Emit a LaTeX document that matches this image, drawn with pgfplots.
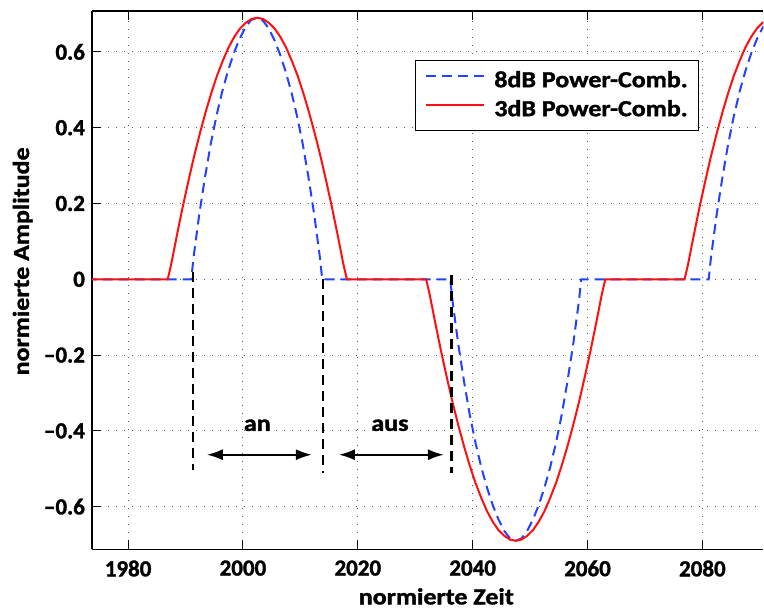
\documentclass[border=0pt]{standalone}
\usepackage{fontspec}
\setmainfont{Carlito}[BoldFeatures={FakeBold=1.5}]
\newfontfamily\widefont{Carlito}[FakeStretch=1.13, BoldFeatures={FakeBold=1.5}]
\usepackage{pgfplots}
\pgfplotsset{compat=1.18}
\usetikzlibrary{arrows.meta}

\definecolor{combblue}{RGB}{35,65,255}
\definecolor{combred}{RGB}{255,15,15}
\newcommand{\lbl}{\fontsize{23}{27}\selectfont\bfseries}
\newcommand{\wlbl}{\widefont\fontsize{23}{27}\selectfont\bfseries}

\begin{document}
\begin{tikzpicture}
\begin{axis}[
    scale only axis,
    width=672pt, height=539pt,
    xmin=1973.7, xmax=2090.6,
    ymin=-0.713, ymax=0.708,
    axis x line*=box, axis y line*=left,
    axis line style={line width=1.5pt, black},
    xtick={1980,2000,2020,2040,2060,2080},
    ytick={-0.6,-0.4,-0.2,0,0.2,0.4,0.6},
    yticklabels={\textendash0.6,\textendash0.4,\textendash0.2,0,0.2,0.4,0.6},
    tick align=inside,
    major tick length=9pt,
    tick style={line width=1pt, black},
    grid=major,
    major grid style={line width=1pt, black!65, dash pattern=on 1pt off 7pt},
    /pgf/number format/1000 sep={},
    /pgf/number format/assume math mode=true,
    ticklabel style={font=\lbl},
    xticklabel style={yshift=-7.5pt},
    yticklabel style={xshift=-3.5pt},
    xlabel={normierte Zeit},
    ylabel={normierte Amplitude},
    xlabel style={font=\wlbl, inner sep=0pt, at={(axis description cs:0.513,-0.102)}, anchor=base},
    ylabel style={font=\wlbl, inner sep=0pt, at={(axis description cs:-0.0938,0.535)}, anchor=base},
    legend style={at={(0.905,0.909)}, anchor=north east, draw=black, line width=1.5pt,
        font=\wlbl, cells={anchor=west}, inner xsep=10pt, inner ysep=10.5pt, row sep=9pt,
        nodes={inner sep=1pt, text height=15pt, text depth=3pt},
        /tikz/every odd column/.style={column sep=8pt}},
    legend image code/.code={\draw[#1] (0pt,5.5pt) -- (58pt,5.5pt);},
]

% 8dB
\addplot[combblue, line width=2pt, dash pattern=on 10pt off 6pt] coordinates {
(1970,0) (1991.0,0) (1991.4,0.058) (1992.4,0.172) (1993.4,0.270) (1994.4,0.358)
(1995.4,0.432) (1996.4,0.496) (1997.4,0.550) (1998.4,0.596) (1999.4,0.634)
(2000.4,0.664) (2001.4,0.684) (2002.4,0.690) (2003.4,0.684) (2004.4,0.664)
(2005.4,0.634) (2006.4,0.596) (2007.4,0.550) (2008.4,0.496) (2009.4,0.432)
(2010.4,0.358) (2011.4,0.270) (2012.4,0.172) (2013.4,0.058) (2013.8,0)
(2036.1,0) (2036.5,-0.058) (2037.5,-0.172) (2038.5,-0.270) (2039.5,-0.358)
(2040.5,-0.432) (2041.5,-0.496) (2042.5,-0.550) (2043.5,-0.596) (2044.5,-0.634)
(2045.5,-0.664) (2046.5,-0.684) (2047.5,-0.690) (2048.5,-0.684) (2049.5,-0.664)
(2050.5,-0.634) (2051.5,-0.596) (2052.5,-0.550) (2053.5,-0.496) (2054.5,-0.432)
(2055.5,-0.358) (2056.5,-0.270) (2057.5,-0.172) (2058.5,-0.058) (2058.9,0)
(2081.1,0) (2081.5,0.058) (2082.5,0.172) (2083.5,0.270) (2084.5,0.358)
(2085.5,0.432) (2086.5,0.496) (2087.5,0.550) (2088.5,0.596) (2089.5,0.634)
(2090.5,0.664) (2091.5,0.684)
};
% 3dB
\addplot[combred, line width=2pt] coordinates {
(1970,0) (1986.9,0) (1987.5,0.039) (1988.5,0.116) (1989.5,0.190) (1990.5,0.259)
(1991.5,0.325) (1992.5,0.385) (1993.5,0.441) (1994.5,0.492) (1995.5,0.538)
(1996.5,0.577) (1997.5,0.612) (1998.5,0.640) (1999.5,0.662) (2000.5,0.677)
(2001.5,0.687) (2002.5,0.690) (2003.5,0.687) (2004.5,0.677) (2005.5,0.662)
(2006.5,0.640) (2007.5,0.612) (2008.5,0.577) (2009.5,0.538) (2010.5,0.492)
(2011.5,0.441) (2012.5,0.385) (2013.5,0.325) (2014.5,0.259) (2015.5,0.190)
(2016.5,0.116) (2017.5,0.039) (2018.1,0)
(2031.9,0) (2032.5,-0.039) (2033.5,-0.116) (2034.5,-0.190) (2035.5,-0.259)
(2036.5,-0.325) (2037.5,-0.385) (2038.5,-0.441) (2039.5,-0.492) (2040.5,-0.538)
(2041.5,-0.577) (2042.5,-0.612) (2043.5,-0.640) (2044.5,-0.662) (2045.5,-0.677)
(2046.5,-0.687) (2047.5,-0.690) (2048.5,-0.687) (2049.5,-0.677) (2050.5,-0.662)
(2051.5,-0.640) (2052.5,-0.612) (2053.5,-0.577) (2054.5,-0.538) (2055.5,-0.492)
(2056.5,-0.441) (2057.5,-0.385) (2058.5,-0.325) (2059.5,-0.259) (2060.5,-0.190)
(2061.5,-0.116) (2062.5,-0.039) (2063.1,0)
(2076.9,0) (2077.5,0.039) (2078.5,0.116) (2079.5,0.190) (2080.5,0.259)
(2081.5,0.325) (2082.5,0.385) (2083.5,0.441) (2084.5,0.492) (2085.5,0.538)
(2086.5,0.577) (2087.5,0.612) (2088.5,0.640) (2089.5,0.662) (2090.5,0.677)
(2091.5,0.687)
};
\legend{8dB Power-Comb., 3dB Power-Comb.}

% markers for on/off
\addplot[black, line width=2.5pt, dash pattern=on 10pt off 6pt, forget plot]
    coordinates {(1991.3,0.02) (1991.3,-0.503)};
\addplot[black, line width=2.5pt, dash pattern=on 10pt off 6pt, forget plot]
    coordinates {(2013.9,0.0) (2013.9,-0.51)};
\addplot[black, line width=2.5pt, dash pattern=on 10pt off 6pt, forget plot]
    coordinates {(2036.3,0.01) (2036.3,-0.51)};

\draw[line width=2pt, {Latex[length=16pt,width=11pt]}-{Latex[length=16pt,width=11pt]}]
    (1993.7,-0.463) -- (2012.0,-0.463);
\draw[line width=2pt, {Latex[length=16pt,width=11pt]}-{Latex[length=16pt,width=11pt]}]
    (2016.7,-0.463) -- (2035.0,-0.463);
\node[font=\wlbl, anchor=base] at (2002.5,-0.4) {an};
\node[font=\wlbl, anchor=base] at (2025.6,-0.4) {aus};
\end{axis}
\path ([xshift=-92pt,yshift=-60pt]current axis.south west)
    rectangle ([yshift=11pt]current axis.north east);
\end{tikzpicture}
\end{document}
